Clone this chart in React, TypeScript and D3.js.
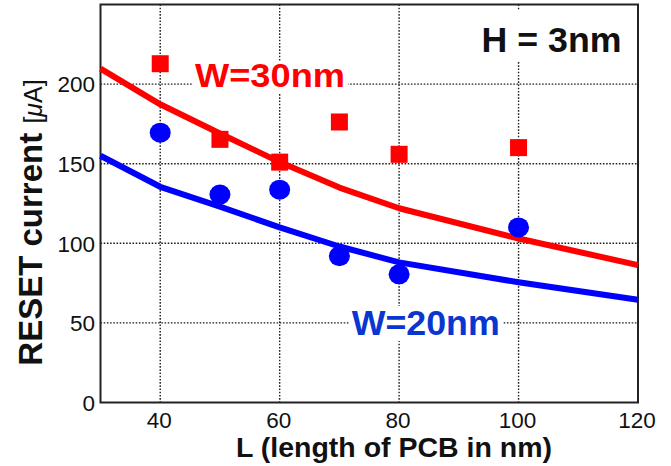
import React from 'react';
import * as d3 from 'd3';

// simulation curves (lines)
const lineL = [30, 40, 50, 60, 70, 80, 100, 120];
const line30 = [209.7, 187.3, 169, 151, 135, 122, 103, 86.3];
const line20 = [155, 135.5, 123, 110, 98, 88, 75.5, 64.5];

// measured points (markers)
const pointL = [40, 50, 60, 70, 80, 100];
const points30 = [212.8, 165.3, 151, 176.2, 155.9, 160.1];
const points20 = [169.5, 130.6, 133.7, 91.9, 80.5, 110];

const xTicks = [40, 60, 80, 100, 120];
const xGrid = [40, 60, 80, 100];
const yTicks = [0, 50, 100, 150, 200];
const yGrid = [50, 100, 150, 200];

const RED = '#ff0000';
const BLUE = '#0000ff';
const BLUE_TEXT = '#0a36d0';
const FONT = 'Liberation Sans, Arial, sans-serif';

const W = 671;
const H = 466;
const m = { left: 100.5, right: 638, top: 4.5, bottom: 402.5 };

const App = () => {
  const xScale = d3.scaleLinear().domain([30, 120]).range([m.left, m.right]);
  const yScale = d3.scaleLinear().domain([0, 250]).range([m.bottom, m.top]);

  const lineGenerator = d3.line<number>()
    .x((d, i) => xScale(lineL[i]))
    .y(d => yScale(d))
    .curve(d3.curveLinear);

  const labelBox = (x, y, w, h) => (
    <rect x={x} y={y} width={w} height={h} fill="#fff" />
  );

  return (
    <svg width={W} height={H} style={{ position: 'absolute', left: 0, top: 0, background: '#fff' }}>
      <rect x={0} y={0} width={W} height={H} fill="#fff" />

      {/* grid */}
      <g stroke="#222" strokeWidth={1.4} strokeDasharray="1.6,1.6">
        {xGrid.map(v => (
          <line key={`gx${v}`} x1={xScale(v)} x2={xScale(v)} y1={m.top} y2={m.bottom} />
        ))}
        {yGrid.map(v => (
          <line key={`gy${v}`} x1={m.left} x2={m.right} y1={yScale(v)} y2={yScale(v)} />
        ))}
      </g>

      {/* white boxes behind annotations */}
      {labelBox(471, 10, 160, 52)}
      {labelBox(192, 61, 156, 32)}
      {labelBox(349, 306, 154, 35)}

      {/* frame */}
      <rect x={m.left} y={m.top} width={m.right - m.left} height={m.bottom - m.top}
        fill="none" stroke="#222" strokeWidth={2} />

      {/* curves */}
      <path d={lineGenerator(line30)} fill="none" stroke={RED} strokeWidth={6} strokeLinejoin="round" />
      <path d={lineGenerator(line20)} fill="none" stroke={BLUE} strokeWidth={6} strokeLinejoin="round" />

      {/* markers */}
      {points30.map((v, i) => (
        <rect key={`s${i}`} x={xScale(pointL[i]) - 8.5} y={yScale(v) - 8.5} width={17} height={17} fill={RED} />
      ))}
      {points20.map((v, i) => (
        <ellipse key={`c${i}`} cx={xScale(pointL[i])} cy={yScale(v)} rx={10.5} ry={10} fill={BLUE} />
      ))}

      {/* tick labels */}
      <g fontFamily={FONT} fontSize={22.5} fill="#111">
        {yTicks.map(v => (
          <text key={`yt${v}`} x={95} y={yScale(v) + 8.3} textAnchor="end">{v}</text>
        ))}
        {xTicks.map(v => (
          <text key={`xt${v}`} x={xScale(v) - 1} y={427.5} textAnchor="middle">{v}</text>
        ))}
      </g>

      {/* axis titles */}
      <text x={394} y={456.5} textAnchor="middle" fontFamily={FONT} fontWeight="bold" fontSize={28.5}
        fill="#111" textLength={316} lengthAdjust="spacingAndGlyphs">L (length of PCB in nm)</text>
      <text transform={`translate(42,${222.5}) rotate(-90)`} textAnchor="middle" fontFamily={FONT} fill="#111">
        <tspan fontWeight="bold" fontSize={33}>RESET current </tspan>
        <tspan fontSize={25}>[</tspan>
        <tspan fontSize={25} fontStyle="italic">μ</tspan>
        <tspan fontSize={25}>A]</tspan>
      </text>

      {/* annotations */}
      <text x={481.5} y={51.7} fontFamily={FONT} fontWeight="bold" fontSize={35} fill="#111"
        textLength={140} lengthAdjust="spacingAndGlyphs">H = 3nm</text>
      <text x={195} y={87.3} fontFamily={FONT} fontWeight="bold" fontSize={34} fill={RED}
        textLength={150} lengthAdjust="spacingAndGlyphs">W=30nm</text>
      <text x={351.7} y={335} fontFamily={FONT} fontWeight="bold" fontSize={35} fill={BLUE_TEXT}
        textLength={148} lengthAdjust="spacingAndGlyphs">W=20nm</text>
    </svg>
  );
};

export default App;
